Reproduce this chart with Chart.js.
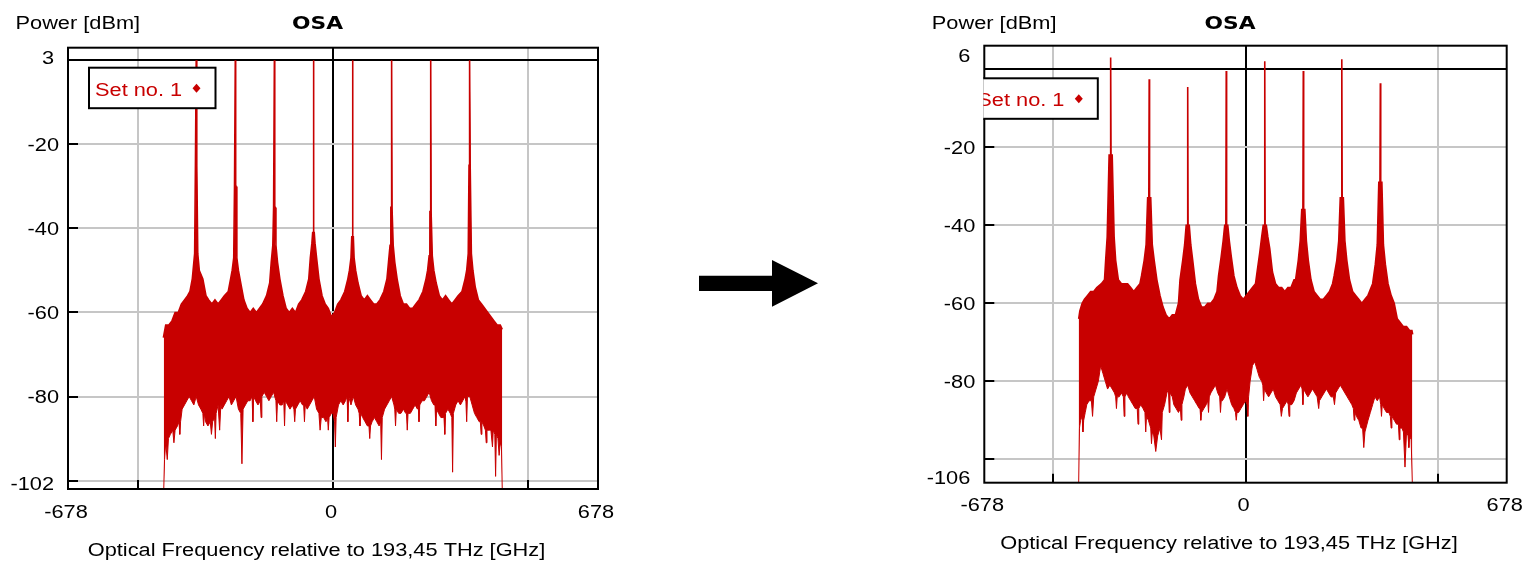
<!DOCTYPE html>
<html>
<head>
<meta charset="utf-8">
<script src="https://cdn.jsdelivr.net/npm/chart.js@4.4.1/dist/chart.umd.min.js"></script>
<style>
html,body{margin:0;padding:0;background:#fff;width:1526px;height:563px;overflow:hidden}
.wrap{position:absolute;top:0;height:563px}
#w1{left:0;width:620px}
#w2{left:916px;width:610px}
#arrow{position:absolute;left:699px;top:260px}
</style>
</head>
<body>
<div class="wrap" id="w1"><canvas id="c1"></canvas></div>
<svg id="arrow" width="122" height="48"><polygon points="0,15.7 73,15.7 73,0 119,23.3 73,46.7 73,31 0,31" fill="#000"/></svg>
<div class="wrap" id="w2"><canvas id="c2"></canvas></div>
<script>
// ---------- texts ----------
const chartTitle = 'OSA';
const yTitle = 'Power [dBm]';
const xTitle = 'Optical Frequency relative to 193,45 THz [GHz]';
const seriesName = 'Set no. 1';

// ---------- axes ----------
const xRange = [-678, 678];
const xGridValues = [-678, -500, 0, 500, 678];
const xTickLabels = [-678, 0, 678];
const leftYRange = [-102, 3];
const leftYGrid = [-100, -80, -60, -40, -20, 0];
const leftYLabels = [3, -20, -40, -60, -80, -102];
const rightYRange = [-106, 6];
const rightYGrid = [-100, -80, -60, -40, -20, 0];
const rightYLabels = [6, -20, -40, -60, -80, -106];

// ---------- left spectrum: upper envelope [GHz, dBm] ----------
const leftUpper = [
[-434,-66],[-428,-63],[-420,-63],[-412,-62],[-404,-60],[-396,-60],[-388,-58],[-380,-57],[-372,-56],
[-366,-55],[-360,-52],[-358,-50],[-354,-46],[-352,-25],[-351,-25],[-350,0],[-349,-25],[-348,-25],[-346,-46],[-342,-50],[-333,-52],[-325,-56],[-318,-57],[-310,-58],[-302,-57],[-294,-58],[-286,-57],[-278,-56],
[-268,-55],[-262,-52],[-258,-50],[-254,-47],[-252,-30],[-251,-30],[-250,0],[-249,-30],[-248,-30],[-246,-47],[-242,-50],[-236,-53],[-228,-57],[-220,-59],[-212,-60],[-204,-59],[-196,-60],[-188,-59],[-180,-58],
[-170,-56],[-162,-53],[-158,-48],[-154,-44],[-152,-35],[-151,-35],[-150,0],[-149,-35],[-148,-35],[-146,-44],[-142,-48],[-136,-52],[-128,-56],[-120,-59],[-112,-60],[-104,-59],[-96,-60],[-88,-58],[-80,-57],
[-70,-55],[-62,-52],[-58,-47],[-54,-43.5],[-52,-41],[-51,-41],[-50,0],[-49,-41],[-48,-41],[-46,-43.5],[-42,-47],[-36,-52],[-28,-56],[-20,-58],[-12,-59],[-4,-61],[4,-60],[12,-58],[20,-57],
[30,-55],[38,-52],[42,-50],[46,-47],[48,-42],[49,-42],[50,0],[51,-42],[52,-42],[54,-47],[58,-50],[64,-53],[72,-56],[80,-57],[88,-56],[96,-57],[104,-58],[112,-58],[120,-57],
[130,-55],[138,-52],[142,-48],[146,-44],[148,-35],[149,-35],[150,0],[151,-35],[152,-35],[154,-44],[158,-48],[164,-52],[172,-56],[180,-58],[188,-58],[196,-59],[204,-59],[212,-58],[220,-57],
[230,-55],[238,-52],[242,-50],[246,-46.5],[248,-36],[249,-36],[250,0],[251,-36],[252,-36],[254,-46.5],[258,-50],[264,-53],[272,-56],[280,-57],[288,-56],[296,-57],[304,-58],[312,-57],[320,-56],
[330,-55],[338,-52],[342,-50],[346,-46],[348,-25],[349,-25],[350,0],[351,-25],[352,-25],[354,-46],[358,-50],[364,-54],[372,-57],[380,-58],[388,-59],[396,-60],[404,-61],[412,-62],[420,-63],[428,-63],[433,-64]
];
// ---------- left spectrum: lower envelope [GHz, dBm] ----------
const leftLower = [
[-433,-102],[-431,-95],[-428,-91],[-424,-95],[-421,-90],[-416,-89],[-410,-88],[-407,-91],[-404,-88],[-398,-87],[-394,-86],[-392,-89],[-390,-86],[-386,-83],[-380,-82],[-374,-81],[-368,-80],[-362,-81],[-356,-82],[-350,-80],[-344,-82],[-338,-83],[-333,-84],[-331,-87],[-329,-84],[-326,-86],[-320,-87],[-314,-86],[-311,-89],[-308,-86],[-303,-85],[-301,-90],[-299,-84],[-294,-82],[-290,-88],[-287,-82],[-284,-83],[-278,-82],[-272,-81],[-266,-80],[-260,-82],[-254,-81],[-248,-80],[-242,-83],[-236,-84],[-233,-96],[-230,-83],[-224,-82],[-218,-81],[-212,-81],[-207,-80],[-205,-86],[-203,-80],[-198,-81],[-192,-82],[-186,-81],[-184,-85],[-182,-80],[-176,-79],[-170,-80],[-164,-81],[-158,-80],[-152,-79],[-146,-81],[-144,-86],[-142,-81],[-136,-82],[-130,-82],[-126,-81],[-124,-87],[-122,-81],[-116,-82],[-110,-83],[-104,-82],[-100,-83],[-98,-86],[-96,-83],[-90,-82],[-84,-81],[-78,-82],[-75,-82],[-73,-86],[-71,-82],[-66,-83],[-60,-82],[-54,-81],[-48,-80],[-42,-83],[-36,-84],[-33,-88],[-30,-85],[-24,-85],[-18,-86],[-14,-85],[-12,-88],[-10,-85],[-4,-84],[0,-84],[4,-86],[6,-92],[8,-85],[14,-82],[20,-81],[26,-82],[32,-81],[36,-80],[38,-86],[40,-80],[46,-82],[52,-80],[58,-82],[64,-83],[67,-84],[69,-87],[71,-84],[76,-85],[82,-86],[88,-87],[92,-87],[94,-90],[96,-87],[100,-86],[106,-85],[112,-86],[118,-87],[122,-86],[124,-95],[126,-85],[132,-83],[138,-82],[144,-81],[150,-80],[156,-82],[158,-83],[160,-87],[162,-83],[168,-84],[174,-84],[180,-83],[186,-84],[188,-84],[190,-88],[192,-84],[198,-84],[204,-83],[210,-82],[216,-83],[218,-82],[220,-86],[222,-82],[228,-81],[234,-81],[240,-80],[246,-79],[252,-81],[258,-82],[261,-82],[263,-87],[265,-83],[270,-84],[276,-85],[282,-85],[284,-85],[286,-89],[288,-84],[294,-83],[300,-84],[304,-85],[306,-98],[308,-84],[314,-82],[320,-81],[326,-82],[332,-81],[338,-80],[340,-81],[342,-86],[344,-80],[350,-80],[356,-82],[362,-84],[368,-85],[374,-86],[377,-86],[379,-89],[381,-86],[386,-87],[390,-88],[392,-91],[394,-88],[400,-88],[404,-88],[408,-92],[410,-88],[414,-89],[416,-99],[418,-89],[422,-90],[425,-94],[428,-91],[431,-92],[433,-102]
];

// ---------- right spectrum: upper envelope [GHz, dBm] ----------
const rightUpper = [
[-433,-64],[-430,-62],[-424,-60],[-418,-59],[-410,-58],[-402,-57],[-394,-57],[-386,-56],[-380,-55.5],[-374,-55],
[-366,-54],[-363,-49],[-359,-43],[-354,-22],[-351,-22],[-350,3],[-349,-22],[-346,-22],[-341,-43],[-337,-49],[-330,-54],[-322,-55],[-314,-55],[-306,-55],[-298,-56],[-290,-57],[-282,-56],[-274,-55],
[-270,-53],[-263,-49],[-258,-45],[-254,-33],[-251,-33],[-250,-2.6],[-249,-33],[-246,-33],[-242,-45],[-237,-49],[-230,-54],[-222,-58],[-214,-61],[-206,-63],[-198,-64],[-190,-63],[-182,-63],[-174,-60],
[-170,-54],[-163,-49],[-158,-45],[-154,-40],[-151,-40],[-150,-4.6],[-149,-40],[-146,-40],[-142,-45],[-137,-49],[-130,-55],[-122,-59],[-114,-61],[-106,-61],[-98,-60],[-90,-60],[-82,-59],[-74,-57],
[-70,-53],[-63,-48],[-58,-44],[-54,-40],[-51,-40],[-50,-0.5],[-49,-40],[-46,-40],[-42,-44],[-37,-48],[-30,-53],[-22,-56],[-14,-58],[-6,-59],[2,-58],[10,-57],[18,-56],[26,-55],
[30,-52],[37,-47],[42,-43],[46,-40],[49,-40],[50,2],[51,-40],[54,-40],[58,-43],[63,-46],[70,-52],[78,-55],[86,-56],[94,-56],[102,-57],[110,-56],[118,-56],[126,-54],
[130,-54],[137,-49],[142,-44],[146,-36],[149,-36],[150,-0.5],[151,-36],[154,-36],[158,-44],[163,-49],[170,-54],[178,-57],[186,-58],[194,-59],[202,-59],[210,-58],[218,-57],[226,-55],
[230,-53],[237,-49],[242,-44],[246,-33],[249,-33],[250,2.5],[251,-33],[254,-33],[258,-44],[263,-49],[270,-54],[278,-57],[286,-58],[294,-59],[302,-60],[310,-59],[318,-58],[326,-56],
[330,-55],[337,-50],[342,-45],[346,-29],[349,-29],[350,-3.6],[351,-29],[354,-29],[358,-45],[363,-50],[370,-55],[378,-58],[386,-60],[394,-64],[402,-65],[410,-66],[418,-66],[426,-67],[432,-67],[434,-68]
];
// ---------- right spectrum: lower envelope [GHz, dBm] ----------
const rightLower = [
[-433,-106],[-431,-92],[-428,-90],[-424,-89],[-422,-93],[-420,-90],[-416,-88],[-412,-86],[-406,-85],[-400,-85],[-397,-89],[-394,-84],[-388,-82],[-382,-80],[-376,-76],[-370,-78],[-364,-80],[-358,-82],[-352,-81],[-346,-82],[-340,-83],[-337,-84],[-335,-87],[-333,-84],[-328,-84],[-322,-83],[-317,-84],[-315,-89],[-313,-84],[-308,-83],[-304,-84],[-298,-85],[-292,-86],[-286,-87],[-281,-87],[-279,-91],[-277,-87],[-272,-86],[-266,-87],[-261,-88],[-259,-93],[-257,-89],[-252,-90],[-246,-92],[-244,-96],[-242,-93],[-238,-94],[-233,-98],[-228,-94],[-222,-92],[-218,-95],[-216,-88],[-210,-86],[-204,-83],[-200,-82],[-198,-88],[-196,-83],[-190,-84],[-186,-86],[-180,-87],[-174,-88],[-169,-87],[-167,-90],[-165,-86],[-160,-84],[-156,-82],[-150,-81],[-144,-83],[-138,-84],[-132,-85],[-126,-86],[-120,-87],[-118,-87],[-116,-90],[-114,-88],[-108,-87],[-102,-86],[-98,-85],[-96,-88],[-94,-84],[-90,-83],[-84,-82],[-78,-81],[-72,-83],[-67,-84],[-65,-88],[-63,-85],[-60,-85],[-54,-84],[-48,-82],[-42,-84],[-36,-86],[-30,-87],[-26,-88],[-24,-90],[-22,-88],[-18,-88],[-12,-87],[-6,-86],[0,-85],[4,-86],[6,-89],[8,-84],[12,-80],[18,-76],[24,-75],[30,-77],[36,-79],[42,-80],[45,-81],[47,-85],[49,-82],[54,-83],[60,-84],[66,-83],[72,-82],[78,-84],[84,-85],[90,-86],[93,-89],[96,-87],[102,-86],[108,-85],[111,-86],[113,-89],[115,-86],[120,-86],[126,-85],[132,-83],[138,-82],[144,-81],[147,-82],[149,-86],[151,-82],[156,-83],[162,-84],[168,-83],[174,-82],[180,-83],[186,-84],[188,-84],[190,-87],[192,-85],[198,-84],[204,-83],[210,-82],[216,-83],[222,-84],[228,-84],[231,-86],[234,-83],[240,-82],[246,-81],[252,-82],[258,-83],[264,-84],[270,-85],[276,-86],[280,-87],[282,-90],[284,-88],[288,-89],[294,-90],[300,-92],[304,-92],[307,-97],[310,-93],[318,-90],[324,-88],[330,-86],[336,-84],[342,-85],[348,-84],[351,-86],[353,-89],[355,-86],[360,-87],[366,-88],[372,-88],[376,-89],[378,-92],[380,-89],[386,-90],[392,-91],[397,-91],[399,-95],[401,-92],[406,-92],[410,-93],[414,-102],[418,-93],[422,-94],[424,-97],[426,-94],[430,-95],[433,-106]
];

// ---------- style ----------
const RED = '#c80000';
const GRID = '#c6c6c6';
const FONT = '18px "Liberation Sans", Arial, sans-serif';
const TITLE_FONT = 'bold 18px "DejaVu Sans", "Liberation Sans", sans-serif';
const STRETCH = 1.21;

function wideText(ctx, text, x, y, align) {
  ctx.save();
  ctx.translate(x, y);
  ctx.scale(STRETCH, 1);
  ctx.textAlign = align;
  ctx.fillText(text, 0, 0);
  ctx.restore();
}

const deco = {
  id: 'deco',
  afterDraw(chart, args, o) {
    const {ctx, chartArea: a, scales: {x, y}} = chart;
    ctx.save();
    // inner tick marks
    ctx.strokeStyle = '#000'; ctx.lineWidth = 2;
    ctx.beginPath();
    o.yGrid.forEach(v => { if (v === 0) return; const py = Math.round(y.getPixelForValue(v)); ctx.moveTo(a.left, py); ctx.lineTo(a.left + 10, py); });
    xGridValues.forEach(v => { if (Math.abs(v) !== 500) return; const px = Math.round(x.getPixelForValue(v)); ctx.moveTo(px, a.bottom); ctx.lineTo(px, a.bottom - 9); });
    ctx.stroke();
    // frame
    ctx.strokeRect(a.left, a.top, a.right - a.left, a.bottom - a.top);

    // texts
    ctx.fillStyle = '#000';
    ctx.font = FONT;
    ctx.textBaseline = 'alphabetic';
    wideText(ctx, yTitle, a.left - 52.5, 28.5, 'left');
    o.yLabels.forEach(v => {
      let py = y.getPixelForValue(v);
      let rx = a.left - 9;
      if (py < a.top + 9.5) { py = a.top + 9.5; rx = a.left - 14; }
      if (py > a.bottom - 5.5) { py = a.bottom - 5.5; rx = a.left - 14; }
      wideText(ctx, String(v), rx, py + 6.5, 'right');
    });
    xTickLabels.forEach(v => {
      wideText(ctx, String(v), x.getPixelForValue(v) - 2, a.bottom + 28.5, 'center');
    });
    wideText(ctx, xTitle, (a.left + a.right) / 2 - 16.5, a.bottom + 66.5, 'center');
    ctx.font = TITLE_FONT;
    wideText(ctx, chartTitle, (a.left + a.right) / 2 - 15.5, 28.5, 'center');

    // legend box
    ctx.save();
    ctx.beginPath(); ctx.rect(a.left - 1, 0, chart.width, chart.height); ctx.clip();
    const bx = a.left + o.legendDx, by = a.top + o.legendDy, bw = 126.5, bh = 40.5;
    ctx.fillStyle = '#fff'; ctx.fillRect(bx, by, bw, bh);
    ctx.strokeStyle = '#000'; ctx.lineWidth = 2; ctx.strokeRect(bx, by, bw, bh);
    ctx.fillStyle = RED; ctx.font = FONT;
    wideText(ctx, seriesName, bx + 6, by + 28, 'left');
    const dx = bx + 107.5, dy = by + 20.5;
    ctx.beginPath(); ctx.moveTo(dx, dy - 4.5); ctx.lineTo(dx + 4, dy); ctx.lineTo(dx, dy + 4.5); ctx.lineTo(dx - 4, dy); ctx.closePath(); ctx.fill();
    ctx.restore();

    ctx.restore();
  }
};

function pts(arr) { return arr.map(p => ({x: p[0], y: p[1]})); }

function makeChart(id, upper, lower, yRange, yGrid, yLabels, geo) {
  return new Chart(document.getElementById(id), {
    type: 'line',
    data: {
      datasets: [
        {label: seriesName, data: pts(upper), borderColor: RED, borderWidth: 1.6, pointRadius: 0, fill: false, tension: 0},
        {label: seriesName + ' (lower)', data: pts(lower), borderColor: RED, borderWidth: 1, pointRadius: 0, fill: '-1', backgroundColor: RED, tension: 0}
      ]
    },
    options: {
      animation: false,
      responsive: true,
      maintainAspectRatio: false,
      devicePixelRatio: 1,
      events: [],
      layout: {padding: {left: 0, top: geo.top, right: geo.right, bottom: 0}},
      plugins: {
        legend: {display: false},
        title: {display: false},
        tooltip: {enabled: false},
        deco: {yGrid: yGrid, yLabels: yLabels, legendDx: geo.legendDx, legendDy: geo.legendDy}
      },
      scales: {
        x: {
          type: 'linear', min: xRange[0], max: xRange[1],
          afterBuildTicks: s => { s.ticks = xGridValues.map(v => ({value: v})); },
          afterFit: s => { s.height = geo.xHeight; },
          ticks: {display: false},
          border: {display: false},
          grid: {drawTicks: false, lineWidth: 2,
            color: c => (c.tick && c.tick.value === 0) ? '#000' : ((c.tick && Math.abs(c.tick.value) === 678) ? 'rgba(0,0,0,0)' : GRID)}
        },
        y: {
          type: 'linear', min: yRange[0], max: yRange[1],
          afterBuildTicks: s => { s.ticks = yGrid.map(v => ({value: v})); },
          afterFit: s => { s.width = geo.yWidth; },
          ticks: {display: false},
          border: {display: false},
          grid: {drawTicks: false, lineWidth: 2,
            color: c => (c.tick && c.tick.value === 0) ? '#000' : GRID}
        }
      }
    },
    plugins: [deco]
  });
}

makeChart('c1', leftUpper, leftLower, leftYRange, leftYGrid, leftYLabels,
  {top: 47.7, right: 22, xHeight: 74, yWidth: 68, legendDx: 21, legendDy: 20});
makeChart('c2', rightUpper, rightLower, rightYRange, rightYGrid, rightYLabels,
  {top: 45.7, right: 19.3, xHeight: 80.3, yWidth: 68.3, legendDx: -13, legendDy: 32.6});
</script>
</body>
</html>
